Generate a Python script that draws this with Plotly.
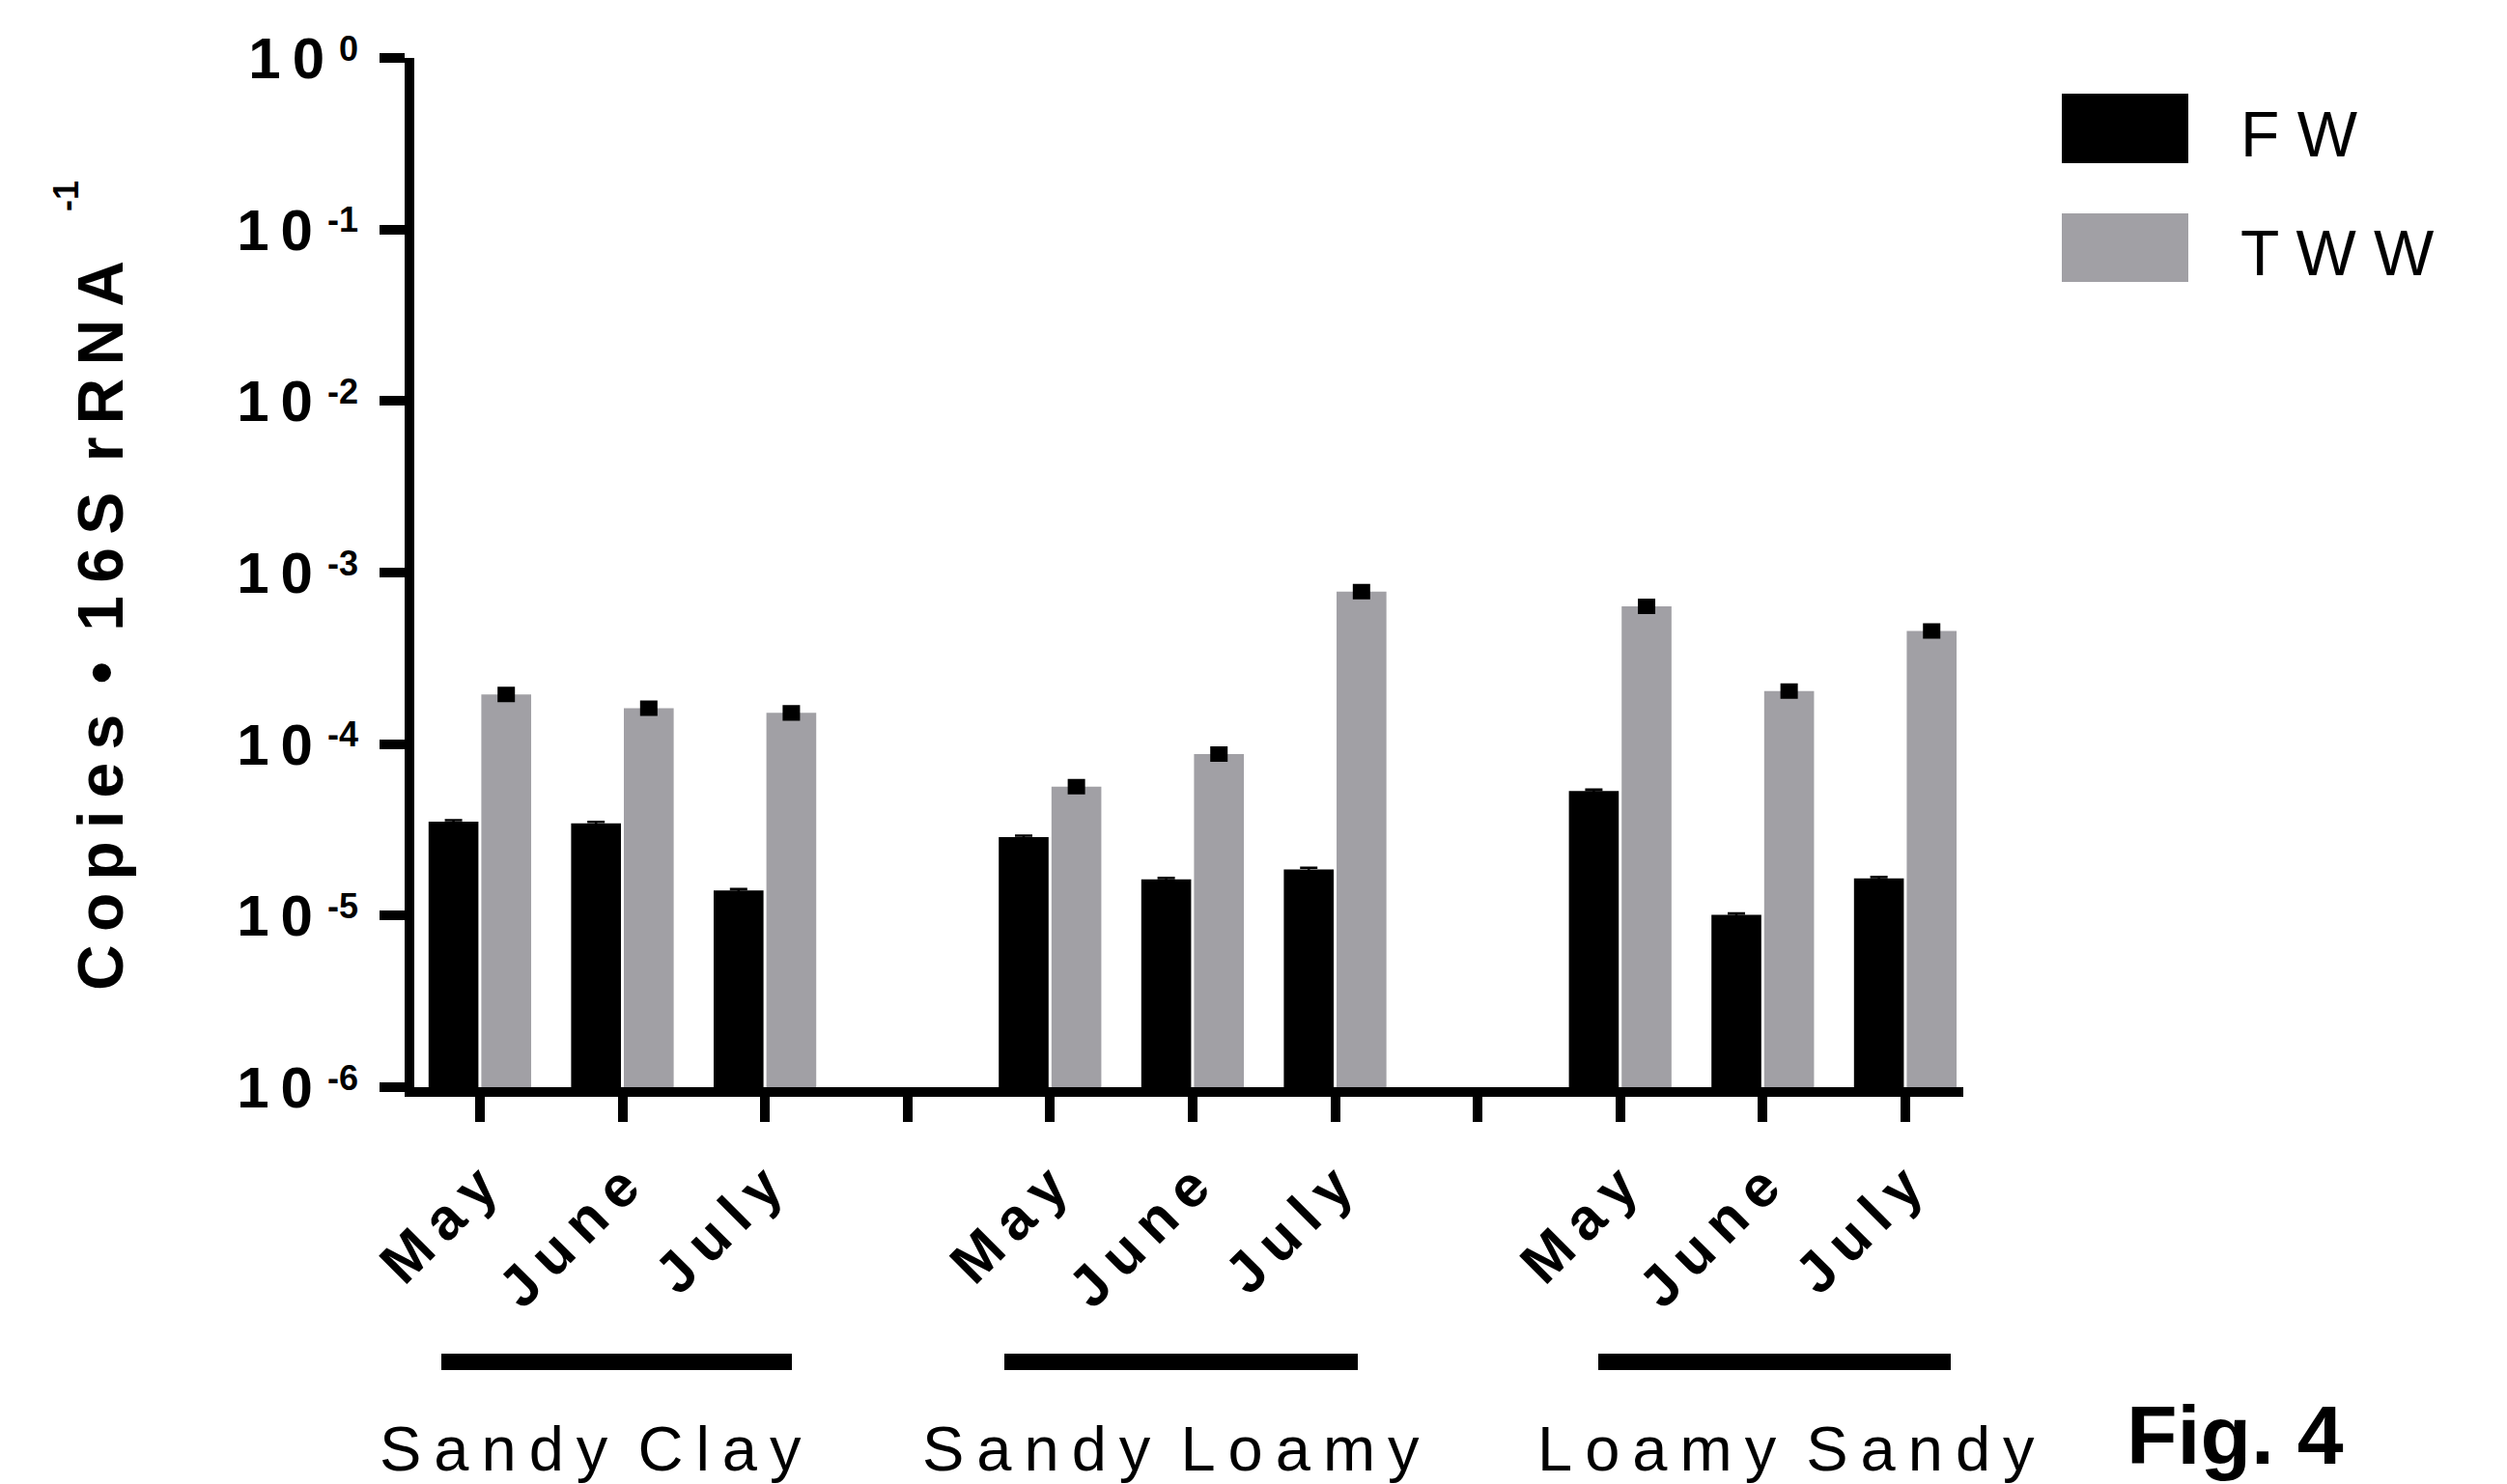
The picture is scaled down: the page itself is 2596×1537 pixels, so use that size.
import plotly.graph_objects as go

# ---- data -------------------------------------------------------------
soils = ["Sandy Clay", "Sandy Loamy", "Loamy Sandy"]
months = ["May", "June", "July"]
series_names = ["F W", "T W W"]

# copies per 16S rRNA, ordered soil by soil, May..July
fw = [3.53e-5, 3.45e-5, 1.40e-5, 2.87e-5, 1.63e-5, 1.86e-5, 5.33e-5, 1.01e-5, 1.65e-5]
tww = [1.95e-4, 1.62e-4, 1.52e-4, 5.65e-5, 8.75e-5, 7.74e-4, 6.35e-4, 2.04e-4, 4.57e-4]
fw_err = [7e-7, 7e-7, 3e-7, 6e-7, 3e-7, 4e-7, 1.1e-6, 2e-7, 3e-7]
tww_err = [2.5e-6, 2.1e-6, 2.0e-6, 7e-7, 1.1e-6, 1.0e-5, 8e-6, 2.7e-6, 6e-6]

decades = [0, -1, -2, -3, -4, -5, -6]

# ---- helpers ----------------------------------------------------------
THIN = "\u2009"


def spaced(text):
    """Letter-spaced text: thin spaces between letters, wider gap between words."""
    return (THIN + " ").join(THIN.join(word) for word in text.split())


FONT = "Liberation Sans, Arial, sans-serif"
GREY = "#a1a0a5"

# one slot per month, one empty slot between soils
step = len(months) + 1
xpos = [g * step + m for g in range(len(soils)) for m in range(len(months))]
n_slots = len(soils) * step - 1
tick_vals = list(range(n_slots))
tick_text = []
for v in tick_vals:
    if v % step == len(months):
        tick_text.append("")
    else:
        tick_text.append(spaced(months[v % step]))

# the mantissa sits a little further left when the exponent carries a sign
y_tick_vals = [10.0 ** d for d in decades]
y_tick_text = [f"1{THIN}0" + ("" if d == 0 else THIN) for d in decades]

# ---- figure -----------------------------------------------------------
fig = go.Figure()
fig.add_trace(go.Bar(
    x=xpos, y=fw, name=series_names[0],
    marker=dict(color="black", line=dict(width=0)),
    error_y=dict(type="data", array=fw_err, visible=True,
                 color="black", thickness=2.5, width=9),
))
fig.add_trace(go.Bar(
    x=xpos, y=tww, name=series_names[1],
    marker=dict(color=GREY, line=dict(width=0)),
    error_y=dict(type="data", array=tww_err, visible=True,
                 color="black", thickness=14, width=9),
))

fig.update_layout(
    template="none",
    width=2596, height=1537,
    margin=dict(l=429, r=563, t=60, b=411, autoexpand=False),
    paper_bgcolor="white", plot_bgcolor="white",
    barmode="group", bargap=0.26, bargroupgap=0.055,
    showlegend=False,
    font=dict(family=FONT, color="black"),
)

fig.update_xaxes(
    range=[-0.46, 10.407],
    tickmode="array", tickvals=tick_vals, ticktext=tick_text,
    tickangle=-45,
    tickfont=dict(family=FONT, size=60, color="black", weight="bold"),
    ticks="outside", ticklen=26, tickwidth=10, tickcolor="black",
    ticklabelstandoff=8,
    showline=True, linewidth=10, linecolor="black",
    showgrid=False, zeroline=False, automargin=False,
)

fig.update_yaxes(
    type="log", range=[-6, 0],
    tickmode="array", tickvals=y_tick_vals, ticktext=y_tick_text,
    tickfont=dict(family=FONT, size=60, color="black", weight="bold"),
    ticks="outside", ticklen=26, tickwidth=10, tickcolor="black",
    ticklabelstandoff=45,
    showline=True, linewidth=10, linecolor="black",
    showgrid=False, zeroline=False, automargin=False,
)


def px_x(px):
    return (px - 429) / 1604


def px_y(py):
    return (1126 - py) / 1066


shapes = []
annotations = []

# exponents of the decade labels
for d in decades:
    annotations.append(dict(xref="paper", yref="y", x=px_x(373), y=d,
                            xanchor="right", yanchor="middle", yshift=10,
                            showarrow=False, text=str(d),
                            font=dict(family=FONT, size=36, color="black",
                                      weight="bold")))

# legend swatches and labels
legend_rows = [("black", 97, 169, 139), (GREY, 221, 292, 262)]
for (color, top, bottom, mid), name in zip(legend_rows, series_names):
    shapes.append(dict(type="rect", xref="paper", yref="paper",
                       x0=px_x(2135), x1=px_x(2266), y0=px_y(bottom), y1=px_y(top),
                       fillcolor=color, line=dict(width=0)))
    annotations.append(dict(xref="paper", yref="paper", x=px_x(2318), y=px_y(mid),
                            xanchor="left", yanchor="middle", showarrow=False,
                            text=name, font=dict(family=FONT, size=66, color="black")))

# soil group bars and names
group_spans = [(457, 820), (1040, 1406), (1655, 2020)]
group_centres = [611, 1212, 1849]
for soil, (a, b), c in zip(soils, group_spans, group_centres):
    shapes.append(dict(type="rect", xref="paper", yref="paper",
                       x0=px_x(a), x1=px_x(b), y0=px_y(1419), y1=px_y(1402),
                       fillcolor="black", line=dict(width=0)))
    annotations.append(dict(xref="paper", yref="paper", x=px_x(c), y=px_y(1500),
                            xanchor="center", yanchor="middle", showarrow=False,
                            text=spaced(soil),
                            font=dict(family=FONT, size=65, color="black")))

# y-axis title and its exponent
title_text = spaced("Copies") + THIN + " \u2022 " + THIN + spaced("16S rRNA")
annotations.append(dict(xref="paper", yref="paper", x=px_x(104), y=px_y(648),
                        xanchor="center", yanchor="middle", showarrow=False,
                        textangle=-90, text=title_text,
                        font=dict(family=FONT, size=66, color="black", weight="bold")))
annotations.append(dict(xref="paper", yref="paper", x=px_x(68), y=px_y(203),
                        xanchor="center", yanchor="middle", showarrow=False,
                        textangle=-90, text="-1",
                        font=dict(family=FONT, size=36, color="black", weight="bold")))

# figure number
annotations.append(dict(xref="paper", yref="paper", x=px_x(2314), y=px_y(1486),
                        xanchor="center", yanchor="middle", showarrow=False,
                        text="Fig. 4",
                        font=dict(family=FONT, size=86, color="black", weight="bold")))

fig.update_layout(shapes=shapes, annotations=annotations)

fig.write_html("out.html")
